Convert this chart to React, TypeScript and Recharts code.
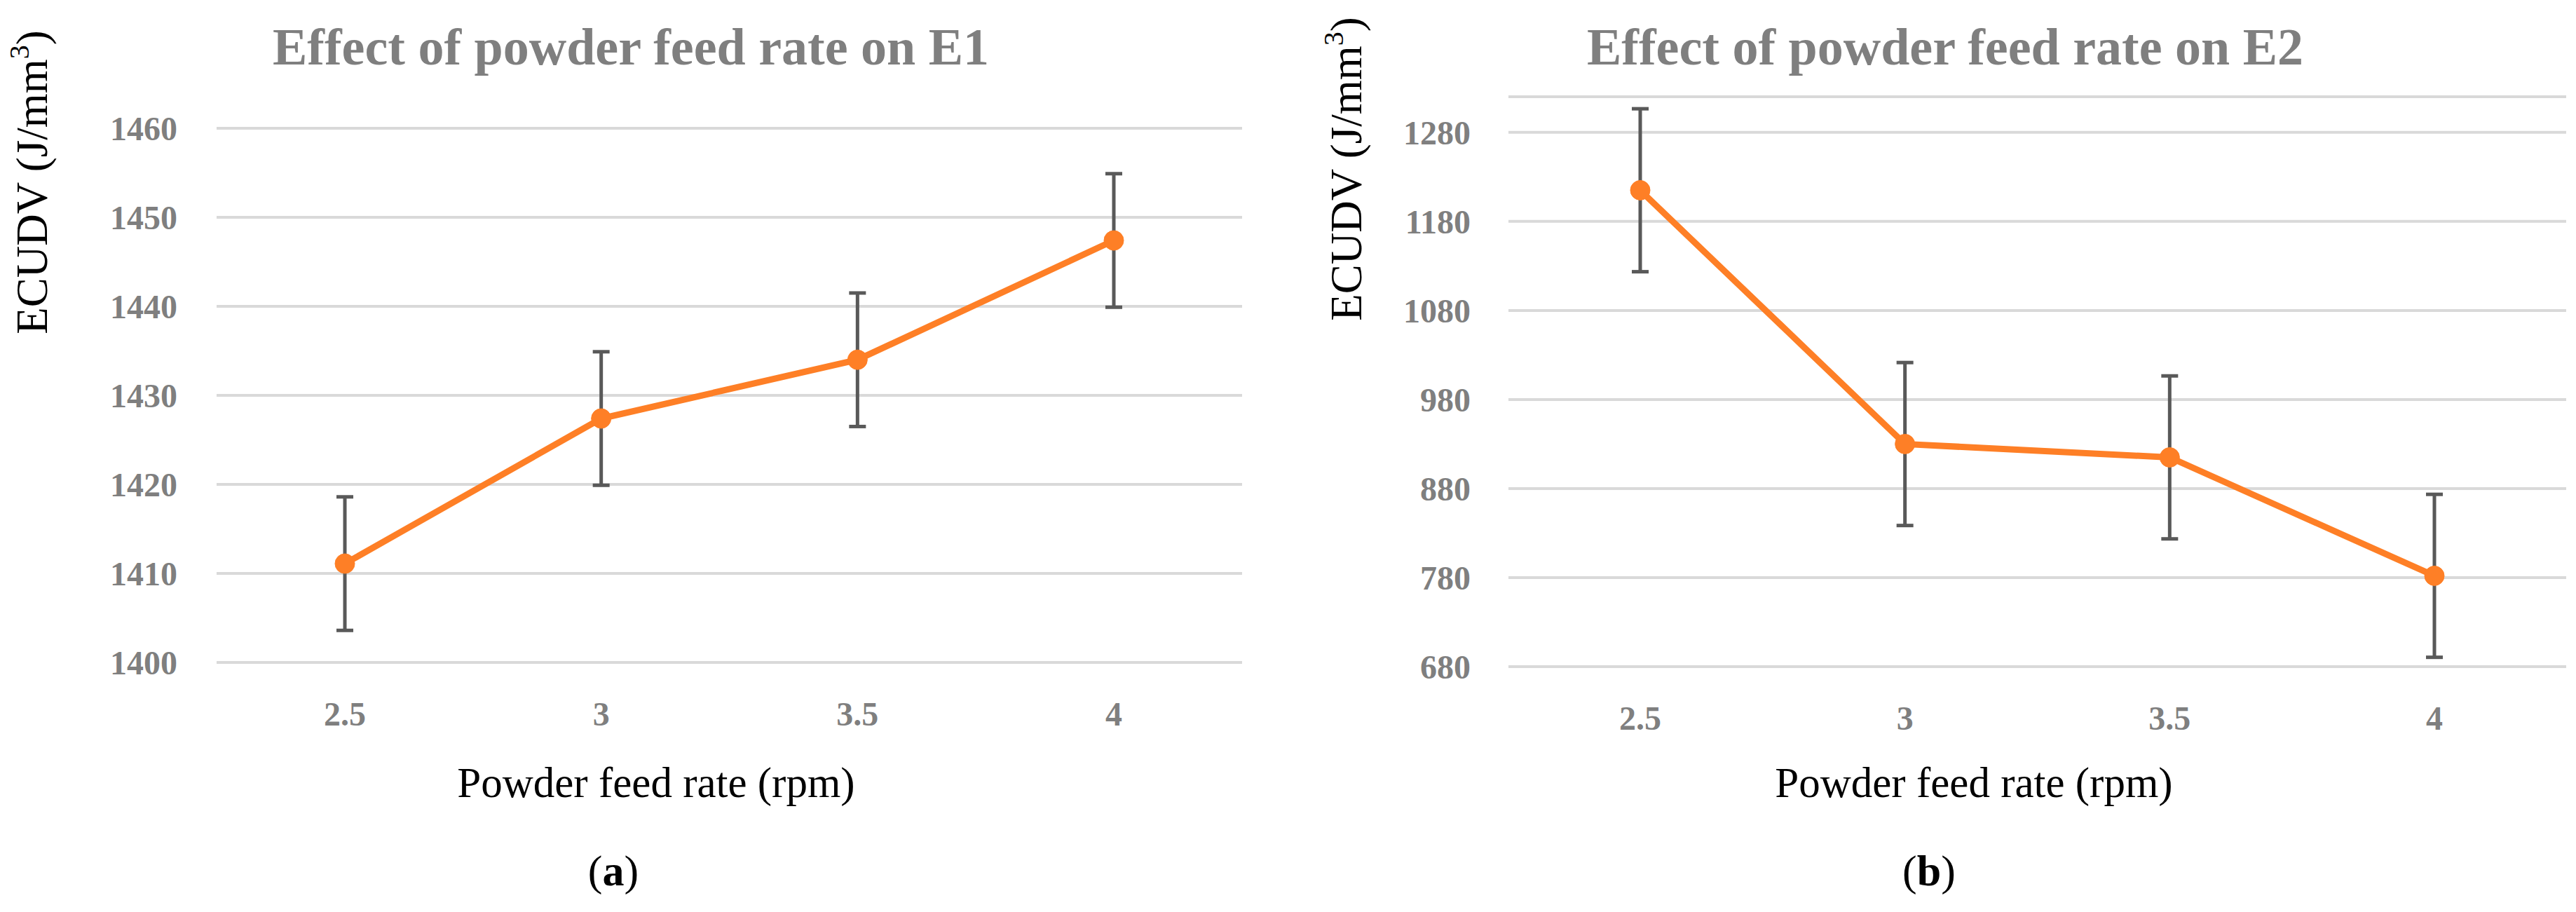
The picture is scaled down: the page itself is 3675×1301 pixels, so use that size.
import React from 'react';
import { CartesianGrid, ErrorBar, Line, LineChart, XAxis, YAxis } from 'recharts';

const feedRates = ['2.5', '3', '3.5', '4'];

const e1Values = [1411.1, 1427.4, 1434.0, 1447.4];
const e1Errors = [7.5, 7.5, 7.5, 7.5];
const e1Ticks = [1400, 1410, 1420, 1430, 1440, 1450, 1460];

const e2Values = [1215, 930, 915, 782];
const e2Errors = [91.5, 91.5, 91.5, 91.5];
const e2Ticks = [680, 780, 880, 980, 1080, 1180, 1280];

const e1Data = feedRates.map((rate, i) => ({ rate, value: e1Values[i], err: e1Errors[i] }));
const e2Data = feedRates.map((rate, i) => ({ rate, value: e2Values[i], err: e2Errors[i] }));

const SERIF = '"Liberation Serif", "Times New Roman", serif';
const ORANGE = '#fe7f26';
const GRID = '#d9d9d9';
const TICK_GRAY = '#7f7f7f';

const tickStyle = { fontSize: 48, fontWeight: 700, fill: TICK_GRAY, fontFamily: SERIF };

function Panel({
  data,
  ticks,
  domain,
  width,
  height,
  margin,
  yWidth,
  yTickGap,
  xPad,
}: {
  data: { rate: string; value: number; err: number }[];
  ticks: number[];
  domain: [number, number];
  width: number;
  height: number;
  margin: { top: number; right: number; bottom: number; left: number };
  yWidth: number;
  yTickGap: number;
  xPad: number;
}) {
  return (
    <LineChart width={width} height={height} data={data} margin={margin}>
      <CartesianGrid horizontal vertical={false} stroke={GRID} strokeWidth={4} />
      <XAxis
        dataKey="rate"
        axisLine={false}
        tickLine={false}
        tickSize={0}
        tickMargin={56}
        height={100}
        padding={{ left: xPad, right: xPad }}
        tick={tickStyle}
      />
      <YAxis
        type="number"
        domain={domain}
        ticks={ticks}
        interval={0}
        axisLine={false}
        tickLine={false}
        tickSize={0}
        tickMargin={yTickGap}
        width={yWidth}
        tick={tickStyle}
      />
      <Line
        type="linear"
        dataKey="value"
        stroke={ORANGE}
        strokeWidth={9}
        dot={{ r: 14, fill: ORANGE, stroke: ORANGE, strokeWidth: 1 }}
        activeDot={false}
        isAnimationActive={false}
      >
        <ErrorBar
          dataKey="err"
          direction="y"
          width={12}
          stroke="#595959"
          strokeWidth={5}
          isAnimationActive={false}
        />
      </Line>
    </LineChart>
  );
}

function YTitle({ x, y }: { x: number; y: number }) {
  return (
    <text
      x={x}
      y={y}
      transform={`rotate(-90 ${x} ${y})`}
      textAnchor="middle"
      fontFamily={SERIF}
      fontSize={63}
      fill="#000"
    >
      ECUDV (J/mm
      <tspan fontSize={40} dy={-26}>
        3
      </tspan>
      <tspan dy={26}>)</tspan>
    </text>
  );
}

function PanelLetter({ x, y, letter }: { x: number; y: number; letter: string }) {
  return (
    <text x={x} y={y} textAnchor="middle" fontFamily={SERIF} fontSize={62} fill="#000">
      (<tspan fontWeight={700}>{letter}</tspan>)
    </text>
  );
}

export default function App() {
  return (
    <div
      style={{
        position: 'absolute',
        left: 0,
        top: 0,
        width: 3675,
        height: 1301,
        background: '#fff',
        overflow: 'hidden',
      }}
    >
      <div style={{ position: 'absolute', left: 0, top: 0 }}>
        <Panel
          data={e1Data}
          ticks={e1Ticks}
          domain={[1400, 1460]}
          width={1840}
          height={1301}
          margin={{ top: 183, right: 68, bottom: 256, left: 0 }}
          yWidth={309}
          yTickGap={56}
          xPad={183}
        />
      </div>
      <div style={{ position: 'absolute', left: 1840, top: 0 }}>
        <Panel
          data={e2Data}
          ticks={e2Ticks}
          domain={[680, 1320]}
          width={1835}
          height={1301}
          margin={{ top: 138, right: 14, bottom: 250, left: 0 }}
          yWidth={312}
          yTickGap={54}
          xPad={188}
        />
      </div>
      <svg
        width={3675}
        height={1301}
        style={{ position: 'absolute', left: 0, top: 0, pointerEvents: 'none' }}
      >
        <text x={900} y={92} textAnchor="middle" fontFamily={SERIF} fontSize={74} fontWeight={700} fill={TICK_GRAY}>
          Effect of powder feed rate on E1
        </text>
        <text x={2775} y={92} textAnchor="middle" fontFamily={SERIF} fontSize={74} fontWeight={700} fill={TICK_GRAY}>
          Effect of powder feed rate on E2
        </text>
        <text x={936} y={1137} textAnchor="middle" fontFamily={SERIF} fontSize={61} fill="#000">
          Powder feed rate (rpm)
        </text>
        <text x={2816} y={1137} textAnchor="middle" fontFamily={SERIF} fontSize={61} fill="#000">
          Powder feed rate (rpm)
        </text>
        <YTitle x={67} y={260} />
        <YTitle x={1942} y={241} />
        <PanelLetter x={875} y={1263} letter="a" />
        <PanelLetter x={2752} y={1263} letter="b" />
      </svg>
    </div>
  );
}
